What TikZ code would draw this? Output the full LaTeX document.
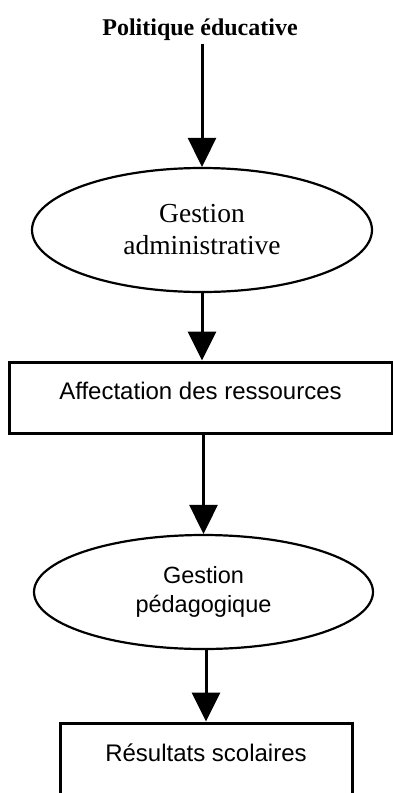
\documentclass[tikz,border=0pt]{standalone}
\usepackage{fontspec}
\setmainfont{Liberation Serif}
\setsansfont{Liberation Sans}
\usetikzlibrary{arrows.meta,shapes.geometric}

\begin{document}
\begin{tikzpicture}[x=1pt,y=-1pt,
    fleche/.style={line width=3pt,-{Triangle[length=29pt,width=28pt]}},
    ovale/.style={ellipse,draw,line width=2.2pt,inner sep=0pt,align=center},
    boite/.style={rectangle,draw,line width=3pt,inner sep=0pt,
      font=\sffamily\fontsize{24}{29}\selectfont}]
            \useasboundingbox (0,0) rectangle (393,793);
            \clip (0,0) rectangle (393,793);
            \draw (200,35) node[anchor=base,
             font=\bfseries\fontsize{24}{28}\selectfont] (pol) {Politique éducative};
            \draw (202,230) node[ovale,minimum width=340pt,minimum height=124pt,
             font=\fontsize{27.5}{32}\selectfont] (admin) {Gestion\\administrative};
            \draw (200.5,397.5) node[boite,minimum width=383pt,
             text height=37pt,text depth=34pt] (affect) {Affectation des ressources};
            \draw (203.5,592) node[ovale,minimum width=339pt,minimum height=114pt,
             font=\sffamily\fontsize{23.5}{29}\selectfont] (peda) {Gestion\\pédagogique};
            \draw (206,764.5) node[boite,minimum width=292pt,
             text height=38pt,text depth=45pt] (res) {Résultats scolaires};
            % fleches
            \draw[fleche] (pol.south -| admin.north) -- (admin.north);
            \draw[fleche] (admin.south) -- (admin.south |- affect.north);
            \draw[fleche] (peda.north |- affect.south) -- (peda.north);
            \draw[fleche] (res.north |- peda.south) -- (res.north);
\end{tikzpicture}
\end{document}
